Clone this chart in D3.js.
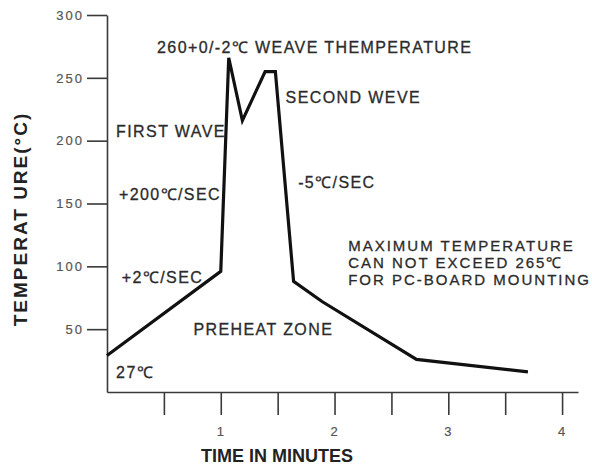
<!DOCTYPE html>
<html>
<head>
<meta charset="utf-8">
<script src="https://cdn.jsdelivr.net/npm/d3@7"></script>
<style>
  body { margin: 0; background: #fff; }
  svg { display: block; font-family: "Liberation Sans", Arial, sans-serif; }
  .note { font-size: 16px; fill: #2b2b2b; stroke: #2b2b2b; stroke-width: 0.3px; letter-spacing: 1.4px; }
  .note.block { font-size: 15px; letter-spacing: 2px; }
  .tickTxt { font-size: 13px; fill: #555; stroke: #555; stroke-width: 0.2px; letter-spacing: 2px; }
  .axisLabel { font-weight: bold; fill: #222; }
</style>
</head>
<body>
<div class="chart"></div>
<script>
// reflow profile
var times = [0, 1.0, 1.07, 1.19, 1.39, 1.48, 1.64, 1.89, 2.72, 3.70];
var temps = [29, 96, 266, 216, 255, 255, 88, 72, 26, 16];

var yTicks = [50, 100, 150, 200, 250, 300];
var xTicks = [0.5, 1, 1.5, 2, 2.5, 3, 3.5, 4];
var xTickLabels = ["", "1", "", "2", "", "3", "", "4"];

// annotations: text, time, temperature (where the text starts)
var noteText = ["260+0/-2\u2103 WEAVE THEMPERATURE", "SECOND WEVE", "FIRST WAVE", "+200\u2103/SEC",
                "-5\u2103/SEC", "+2\u2103/SEC", "PREHEAT ZONE", "27\u2103"];
var noteTime = [0.44, 1.57, 0.08, 0.105, 1.68, 0.13, 0.76, 0.08];
var noteTemp = [270, 230, 203, 153, 162, 87, 45, 11];

// the three-line remark on the right
var remarkLines = ["MAXIMUM TEMPERATURE", "CAN NOT EXCEED 265\u2103", "FOR PC-BOARD MOUNTING"];
var remarkTime = 2.12;
var remarkTemp = [112, 98.5, 85];

var width = 592, height = 467;

var svg = d3.select(".chart")
            .append("svg")
            .attr("width", width)
            .attr("height", height);

var scaleX = d3.scaleLinear()
               .domain([0, 4.14])
               .range([107, 578]);

var scaleY = d3.scaleLinear()
               .domain([0, 300])
               .range([392, 15]);

var axisLeft = d3.axisLeft(scaleY)
                 .tickValues(yTicks)
                 .tickSize(20)
                 .tickSizeOuter(0)
                 .tickPadding(3);

var axisBottom = d3.axisBottom(scaleX)
                   .tickValues(xTicks)
                   .tickSize(23)
                   .tickSizeOuter(0)
                   .tickPadding(12)
                   .tickFormat(function(d, i) { return xTickLabels[i]; });

var gy = svg.append("g")
            .attr("transform", "translate(" + scaleX(0) + ",0)")
            .call(axisLeft);

var gx = svg.append("g")
            .attr("transform", "translate(0," + scaleY(0) + ")")
            .call(axisBottom);

[gx, gy].forEach(function(g) {
  g.select(".domain").attr("stroke", "#3a3a3a").attr("stroke-width", 1.6);
  g.selectAll(".tick line").attr("stroke", "#3a3a3a").attr("stroke-width", 1.6);
  g.selectAll(".tick text").attr("class", "tickTxt").attr("font-family", null).attr("font-size", null).attr("fill", null);
});

var line = d3.line()
             .x(function(d, i) { return scaleX(times[i]); })
             .y(function(d) { return scaleY(d); });

svg.append("path")
   .datum(temps)
   .attr("d", line)
   .attr("fill", "none")
   .attr("stroke", "#111")
   .attr("stroke-width", 3.2)
   .attr("stroke-linejoin", "miter");

svg.selectAll(".note.single")
   .data(noteText)
   .enter()
   .append("text")
   .attr("class", "note single")
   .attr("x", function(d, i) { return scaleX(noteTime[i]); })
   .attr("y", function(d, i) { return scaleY(noteTemp[i]); })
   .text(function(d) { return d; });

svg.selectAll(".note.block")
   .data(remarkLines)
   .enter()
   .append("text")
   .attr("class", "note block")
   .attr("x", scaleX(remarkTime))
   .attr("y", function(d, i) { return scaleY(remarkTemp[i]); })
   .text(function(d) { return d; });

svg.append("text")
   .attr("class", "axisLabel")
   .attr("x", 277)
   .attr("y", 462)
   .style("text-anchor", "middle")
   .style("font-size", "18px")
   .text("TIME IN MINUTES");

svg.append("text")
   .attr("class", "axisLabel")
   .attr("transform", "translate(27,219) rotate(-90)")
   .style("text-anchor", "middle")
   .style("font-size", "19px")
   .style("letter-spacing", "2px")
   .text("TEMPERAT URE(\u00b0C)");
</script>
</body>
</html>
